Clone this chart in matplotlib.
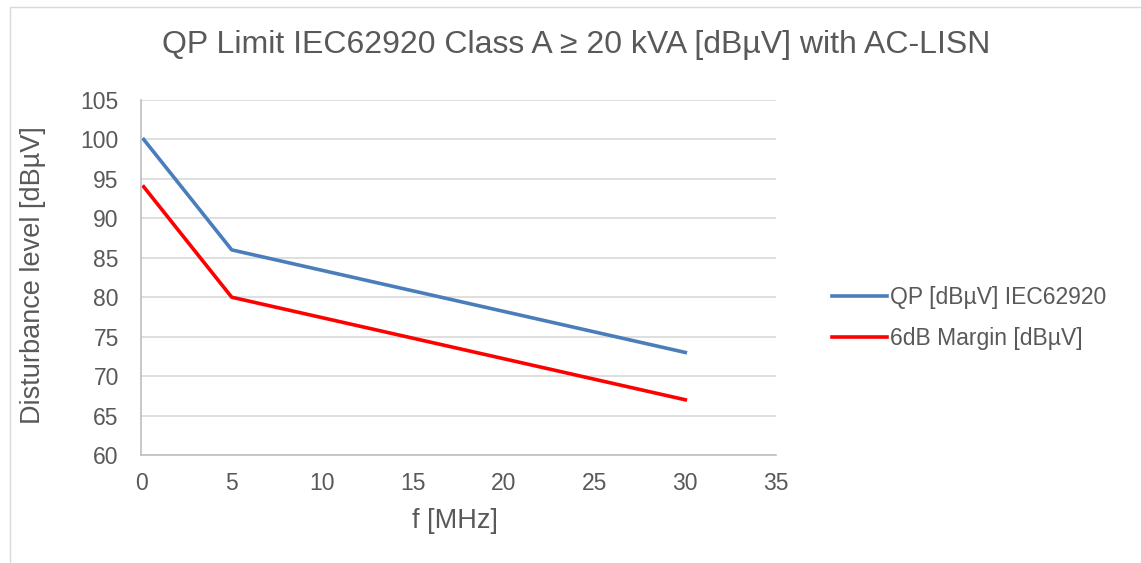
import matplotlib.pyplot as plt
from matplotlib.patches import Rectangle

# frequency points [MHz] and limits [dBuV]
freq = [0.15, 5, 30]
qp_limit = [100, 86, 73]
margin_6db = [94, 80, 67]

x_ticks = [0, 5, 10, 15, 20, 25, 30, 35]
y_ticks = [60, 65, 70, 75, 80, 85, 90, 95, 100, 105]

plt.rcParams['font.family'] = ['Liberation Sans', 'DejaVu Sans']
TXT = '#595959'

fig = plt.figure(figsize=(11.41, 5.63), dpi=100)
fig.patches.append(Rectangle((10 / 1141, -0.1), 1.2, 1.1 - 7 / 563,
                             transform=fig.transFigure, fill=False,
                             edgecolor='#d9d9d9', linewidth=1))
ax = fig.add_axes([141 / 1141, 1 - 455 / 563, 635 / 1141, 355 / 563])

ax.plot(freq, qp_limit, color='#4a7ebb', linewidth=2.6, label='QP [dBµV] IEC62920')
ax.plot(freq, margin_6db, color='#ff0000', linewidth=2.6, label='6dB Margin [dBµV]')

ax.set_xlim(0, 35)
ax.set_ylim(60, 105)
ax.set_xticks(x_ticks)
ax.set_yticks(y_ticks)
ax.grid(True, axis='y', color='#d9d9d9', linewidth=1.2)
ax.set_axisbelow(True)
for s in ['top', 'right']:
    ax.spines[s].set_visible(False)
for s in ['left', 'bottom']:
    ax.spines[s].set_color('#bfbfbf')
    ax.spines[s].set_linewidth(1.2)
ax.tick_params(length=0, labelsize=16.5, colors=TXT)
ax.tick_params(axis='y', pad=16)
ax.tick_params(axis='x', pad=12)

ax.set_xlabel('f [MHz]', fontsize=19.5, color=TXT)
ax.set_ylabel('Disturbance level [dBµV]', fontsize=19.5, color=TXT)
ax.xaxis.set_label_coords(0.494, -0.186)
ax.xaxis.label.set_va('center')
ax.yaxis.set_label_coords(-0.170, 0.507)
ax.yaxis.label.set_va('center')
fig.text(576 / 1141, 1 - 45 / 563, 'QP Limit IEC62920 Class A ≥ 20 kVA [dBµV] with AC-LISN',
         ha='center', va='center', fontsize=23, color=TXT)

ax.legend(loc='center left', bbox_to_anchor=(811 / 1141, 1 - 318 / 563),
          bbox_transform=fig.transFigure, frameon=False, fontsize=16.5,
          labelcolor=TXT, handlelength=2.4, handletextpad=0.15, labelspacing=0.8)

fig.savefig('out.png', dpi=100)
